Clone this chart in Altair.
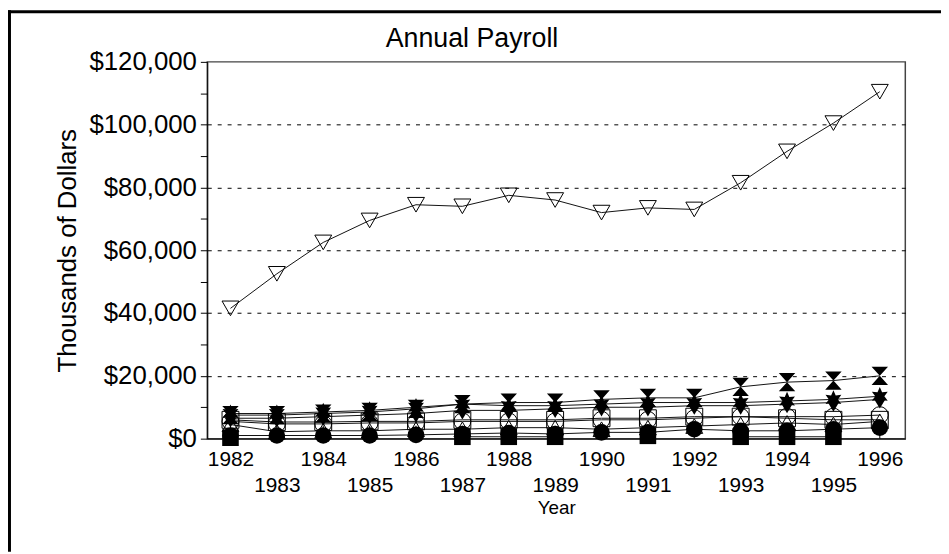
import math
import altair as alt
import pandas as pd

# ---------------- data ----------------
years = list(range(1982, 1997))
series_names = ["Total", "Open triangle", "Open square", "Open circle",
                "Filled circle", "Filled square", "Diamond", "Star", "Hourglass"]

s_total = [41500, 52500, 62500, 69500, 74500, 74000, 77500, 76000, 72000, 73500, 73000, 81500, 91500, 100500, 110500]
s_otri = [4500, 2200, 2500, 2500, 3000, 3000, 3500, 3500, 3000, 3500, 4000, 4500, 5000, 4500, 5500]
s_osq = [6000, 5300, 5300, 5500, 5500, 6000, 6000, 6000, 6500, 6500, 7000, 7000, 6500, 6000, 6000]
s_ocirc = [5500, 4700, 4700, 5000, 5000, 5500, 5500, 5500, 6000, 6000, 6500, 7000, 7000, 7000, 7500]
s_fcirc = [1000, 1000, 1000, 1000, 1200, 1500, 1800, 1500, 2000, 2000, 3000, 2500, 2500, 3000, 3500]
s_fsq = [300, None, None, None, None, 600, 600, 600, None, 900, None, 600, 600, 600, None]
s_diam = [6500, 6500, 7000, 7500, 8000, 9000, 9000, 9500, 10000, 10000, 10500, 10500, 11000, 11500, 12500]
s_star = [8000, 8000, 8500, 9000, 10000, 11000, 10500, 10500, 11000, 11500, 11500, 11500, 12000, 12500, 13500]
s_hour = [7500, 7500, 8000, 8500, 9500, 11000, 11500, 11500, 12500, 13000, 13000, 16500, 18000, 18500, 20000]

all_series = [s_total, s_otri, s_osq, s_ocirc, s_fcirc, s_fsq, s_diam, s_star, s_hour]
open_series = ["Total", "Open triangle", "Open square", "Open circle"]
basic_filled = ["Filled circle", "Filled square"]
custom_filled = ["Diamond", "Star", "Hourglass"]

y_ticks = list(range(0, 120001, 10000))
chart_title = ["Annual Payroll"]

rows = []
for name, vals in zip(series_names, all_series):
    for yr, v in zip(years, vals):
        rows.append({"year": yr, "value": v, "series": name})
df = pd.DataFrame(rows)
df_open = df[df["series"].isin(open_series)]
df_basic = df[df["series"].isin(basic_filled)]
df_custom = df[df["series"].isin(custom_filled)]
df_years = pd.DataFrame({"year": years})

# ---------------- shapes ----------------
def star_path(n=6, inner=0.5):
    pts = []
    for i in range(2 * n):
        a = -math.pi / 2 + i * math.pi / n
        r = 1.0 if i % 2 == 0 else inner
        pts.append(f"{r * math.cos(a):.3f},{r * math.sin(a):.3f}")
    return "M" + "L".join(pts) + "Z"

hourglass = "M-0.9,-1L0.9,-1L0,0L0.9,1L-0.9,1L0,0Z"
diamond = "M0,-1L0.6,0L0,1L-0.6,0Z"

shape_scale = alt.Scale(
    domain=series_names,
    range=["triangle-down", "triangle-up", "square", "circle",
           "circle", "square", diamond, star_path(), hourglass],
)

FONT = "Liberation Sans"
W, H = 704, 380
PAD_L, PAD_T = 201, 52
TOT_W, TOT_H = 941, 546

xscale = alt.Scale(domain=[1981.5, 1996.55], nice=False, zero=False)
yscale = alt.Scale(domain=[0, 120000], nice=False)

y_axis = alt.Axis(
    values=y_ticks,
    labelExpr="datum.value % 20000 == 0 ? '$' + format(datum.value, ',') : ''",
    title="Thousands of Dollars",
    titleFont=FONT, titleFontSize=26, titleFontWeight="normal", titleColor="black",
    titlePadding=8,
    labelFont=FONT, labelFontSize=26, labelColor="black", labelPadding=4,
    tickSize=7, tickColor="black", domainColor="black",
    grid=True, gridColor="black", gridDash=[4, 6], gridWidth=1,
    gridOpacity=alt.condition(
        "datum.value % 20000 == 0 && datum.value > 0 && datum.value < 120000", alt.value(1), alt.value(0)
    ),
    labelFlush=False, labelOverlap=False,
)
y_enc = alt.Y("value:Q", scale=yscale, axis=y_axis)

even_axis = alt.Axis(
    values=years, format="d", orient="bottom",
    labelExpr="datum.value % 2 == 0 ? datum.label : ''",
    ticks=False, domain=True, domainColor="black", grid=False,
    labelFont=FONT, labelFontSize=21, labelColor="black", labelPadding=10,
    labelBaseline="top", labelFlush=False, labelOverlap=False, title=None,
)
odd_axis = alt.Axis(
    values=years, format="d", orient="bottom",
    labelExpr="datum.value % 2 == 1 ? datum.label : ''",
    ticks=False, domain=False, grid=False,
    labelFont=FONT, labelFontSize=21, labelColor="black", labelPadding=36,
    labelBaseline="top", labelFlush=False, labelOverlap=False,
    title="Year", titleFont=FONT, titleFontSize=19, titleFontWeight="normal",
    titleColor="black", titlePadding=3,
)

lines = alt.Chart(df).mark_line(color="#111", strokeWidth=1).encode(
    x=alt.X("year:Q", scale=xscale, axis=even_axis),
    y=y_enc,
    detail="series:N",
)

ticks = alt.Chart(df_years).mark_rule(color="black", strokeWidth=1).encode(
    x=alt.X("year:Q", scale=xscale, axis=odd_axis),
    y=alt.value(H),
    y2=alt.value(H - 13),
)

def points(data, filled, size):
    return alt.Chart(data).mark_point(
        filled=filled, color="black", strokeWidth=1, opacity=1, size=size
    ).encode(
        x=alt.X("year:Q", scale=xscale, axis=None),
        y=y_enc,
        shape=alt.Shape("series:N", scale=shape_scale, legend=None),
    )

pts_open = points(df_open, False, 290)
pts_basic = points(df_basic, True, 280)
pts_custom = points(df_custom, True, 340)

title_df = pd.DataFrame({"t": chart_title})
title = alt.Chart(title_df).mark_text(
    font=FONT, fontSize=27, color="black", align="center", baseline="middle"
).encode(
    text="t:N",
    x=alt.value(476 - 8 - PAD_L),
    y=alt.value(37 - 8 - PAD_T),
)

frame_left = alt.Chart(title_df).mark_rule(color="black", strokeWidth=3).encode(
    x=alt.value(1.5 - PAD_L), x2=alt.value(1.5 - PAD_L),
    y=alt.value(-PAD_T), y2=alt.value(TOT_H - PAD_T),
)
frame_top = alt.Chart(title_df).mark_rule(color="black", strokeWidth=3).encode(
    x=alt.value(-PAD_L), x2=alt.value(TOT_W - PAD_L),
    y=alt.value(1.5 - PAD_T), y2=alt.value(1.5 - PAD_T),
)

chart = alt.layer(
    lines, ticks, pts_open, pts_basic, pts_custom, title, frame_left, frame_top
).resolve_axis(x="independent", y="shared").resolve_scale(
    shape="shared"
).properties(
    width=W, height=H,
    autosize=alt.AutoSizeParams(type="none"),
    padding={"left": PAD_L, "top": PAD_T, "right": TOT_W - PAD_L - W, "bottom": TOT_H - PAD_T - H},
    background="white",
).configure_view(
    stroke="#444", strokeWidth=1.5
)

chart.save("out.html", embed_options={"renderer": "svg", "actions": False})
